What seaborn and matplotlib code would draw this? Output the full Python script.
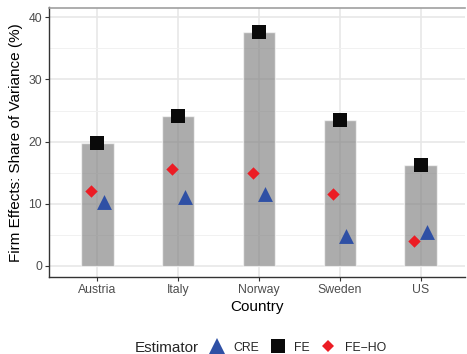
import matplotlib
matplotlib.use("Agg")
import matplotlib.pyplot as plt
from matplotlib.lines import Line2D
from matplotlib.ticker import MultipleLocator
import seaborn as sns
import pandas as pd
import numpy as np

countries = ["Austria", "Italy", "Norway", "Sweden", "US"]
fe = [19.7, 24.1, 37.7, 23.5, 16.2]
fe_ho = [12.1, 15.6, 14.9, 11.6, 4.0]
cre = [10.2, 11.0, 11.5, 4.8, 5.5]
estimators = ["CRE", "FE", "FE\u2212HO"]

sns.set_theme(style="white")
plt.rcParams["font.family"] = ["Liberation Sans", "DejaVu Sans"]

fig = plt.figure(figsize=(4.67, 3.54), dpi=100)
ax = fig.add_axes([49 / 467, 1 - 277.3 / 354, 416 / 467, 269.8 / 354])
ax.patch.set_visible(False)

df_bar = pd.DataFrame({"Country": pd.Categorical(countries, categories=countries), "FE": fe})
sns.barplot(data=df_bar, x="Country", y="FE", color="#7a7a7a", alpha=0.62,
            saturation=1, width=0.4, errorbar=None, ax=ax, zorder=2)

code = df_bar["Country"].cat.codes.to_numpy()
off = 0.08
specs = [
    (fe_ho, -off, "D", "#EC1C24", 40),
    (cre, off, "^", "#2F50A5", 115),
    (fe, 0.0, "s", "#0A0A0A", 90),
]
for vals, dx, mk, col, s in specs:
    d = pd.DataFrame({"x": code + dx, "y": vals})
    sns.scatterplot(data=d, x="x", y="y", marker=mk, color=col, s=s,
                    linewidth=0, ax=ax, zorder=4, legend=False)

ax.set_xlim(-0.6, 4.55)
ax.set_ylim(-1.87, 41.6)
ax.set_xticks(range(len(countries)))
ax.set_xticklabels(countries)
ax.yaxis.set_major_locator(MultipleLocator(10))
ax.yaxis.set_minor_locator(MultipleLocator(5))
ax.set_axisbelow(True)
ax.grid(which="major", color="#E6E6E6", linewidth=1.1)
ax.grid(which="minor", axis="y", color="#F1F1F1", linewidth=0.7)
ax.tick_params(which="minor", length=0)
ax.tick_params(axis="both", which="major", length=3, width=0.8, color="#333333",
               labelsize=8.8, labelcolor="#4D4D4D", pad=2, left=True, bottom=True,
               right=False, top=False)
for side in ["left", "bottom"]:
    ax.spines[side].set_color("#333333")
    ax.spines[side].set_linewidth(1.0)
ax.spines["top"].set_color("#A0A0A0")
ax.spines["top"].set_linewidth(1.2)
ax.spines["right"].set_visible(False)

ax.set_xlabel("Country", fontsize=11, color="black", labelpad=3)
ax.set_ylabel("Firm Effects: Share of Variance (%)", fontsize=11, color="black", labelpad=4)

fig.text(135 / 467, 1 - 347.7 / 354, "Estimator", fontsize=11, ha="left", va="center")
handles = [
    Line2D([], [], linestyle="none", marker="^", color="#2F50A5", markersize=11, markeredgewidth=0),
    Line2D([], [], linestyle="none", marker="s", color="#0A0A0A", markersize=9.5, markeredgewidth=0),
    Line2D([], [], linestyle="none", marker="D", color="#EC1C24", markersize=6.5, markeredgewidth=0),
]
fig.legend(handles, estimators, ncol=3, loc="center left",
           bbox_to_anchor=(210 / 467, 1 - 347.7 / 354), frameon=False,
           fontsize=8.8, handlelength=1.2, handletextpad=0.74, columnspacing=0.9,
           borderpad=0, borderaxespad=0)

fig.savefig("out.png", dpi=100)
